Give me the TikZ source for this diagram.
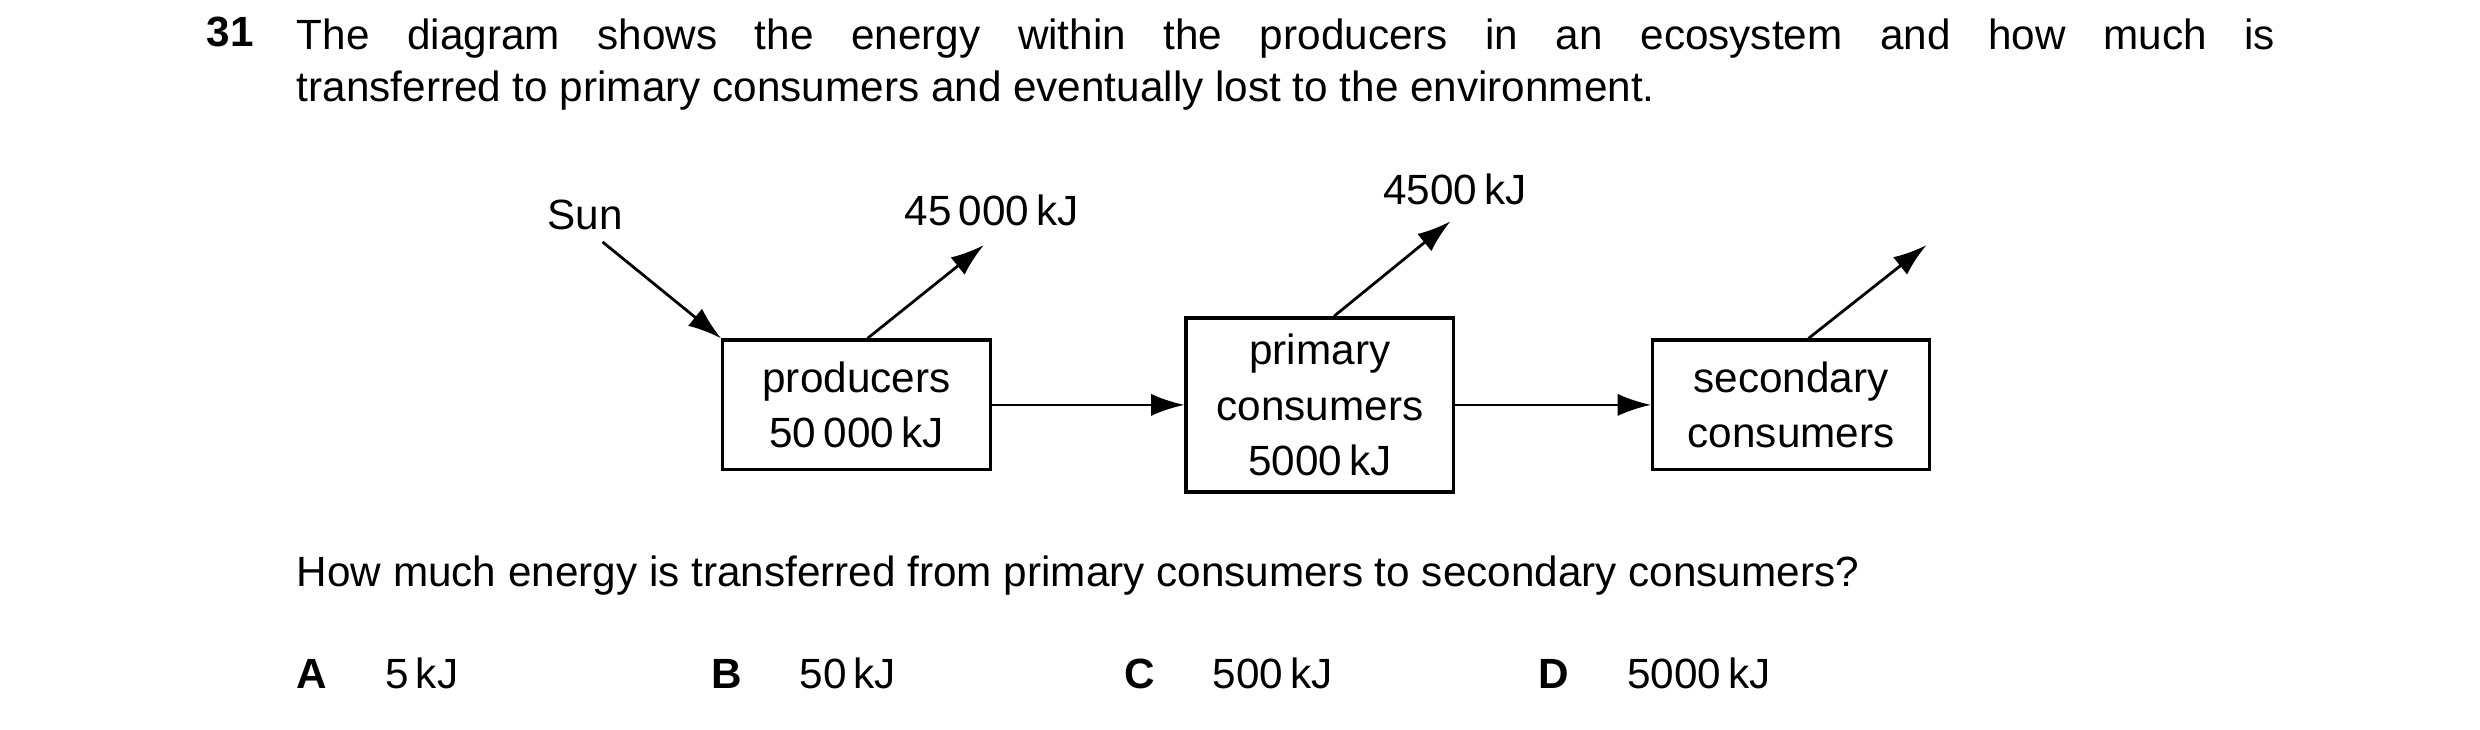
\documentclass[tikz,border=0pt]{standalone}
\usepackage{fontspec}
\setmainfont{Liberation Sans}
\usetikzlibrary{arrows.meta}
\tikzset{
  txt/.style={inner sep=0pt, font=\fontsize{7.6}{9.4}\selectfont},
  box/.style={draw, line width=0.6pt, minimum width=1.69cm, align=center, inner sep=0pt, font=\fontsize{7.6}{10}\selectfont},
  flow/.style={-{Latex[length=6pt,width=4pt]}, line width=0.5pt}
}
\begin{document}
\begin{tikzpicture}[x=0.01cm,y=-0.01cm]
  \useasboundingbox (0,0) rectangle (1568,461);
  % question
  \node[txt, anchor=west, font=\fontsize{7.6}{9.4}\selectfont\bfseries] (num) at (130,20) {31};
  \node[txt, anchor=north west, text width=12.5cm, align=justify] (stem) at (187,11)
    {The diagram shows the energy within the producers in an ecosystem and how much is\linebreak
     transferred to primary consumers and eventually lost to the environment.};
  % boxes
  \node[box, minimum height=0.82cm] (prod) at (541.5,256) {producers\\50\,000\,kJ};
  \node[box, minimum height=1.10cm] (prim) at (834.5,256) {primary\\consumers\\5000\,kJ};
  \node[box, minimum width=1.75cm, minimum height=0.82cm] (sec) at (1132.5,256) {secondary\\consumers};
  % sun and losses
  \node[txt] (sun) at (370,136) {Sun};
  \coordinate (l1) at (622,155);
  \coordinate (l2) at (917,140);
  \coordinate (l3) at (1218,155);
  \node[txt] (e1) at (627,133) {45\,000\,kJ};
  \node[txt] (e2) at (920,120) {4500\,kJ};
  \draw[flow] (381,153) -- (prod.north west);
  \draw[flow] (prod.north) ++(7,0) -- (l1);
  \draw[flow] (prim.north) ++(9,0) -- (l2);
  \draw[flow] (sec.north) ++(11,0) -- (l3);
  \draw[flow] (prod) -- (prim);
  \draw[flow] (prim) -- (sec);
  % answer
  \node[txt, anchor=west] (ask) at (187,364) {How much energy is transferred from primary consumers to secondary consumers?};
  \foreach \k/\v/\x in {A/5/187, B/50/449, C/500/710, D/5000/972}{
    \node[txt, anchor=west, font=\fontsize{7.6}{9.4}\selectfont\bfseries] (opt\k) at (\x,426) {\k};
    \node[txt, anchor=west] (val\k) at (\x+56,426) {\v\,kJ};
  }
\end{tikzpicture}
\end{document}
